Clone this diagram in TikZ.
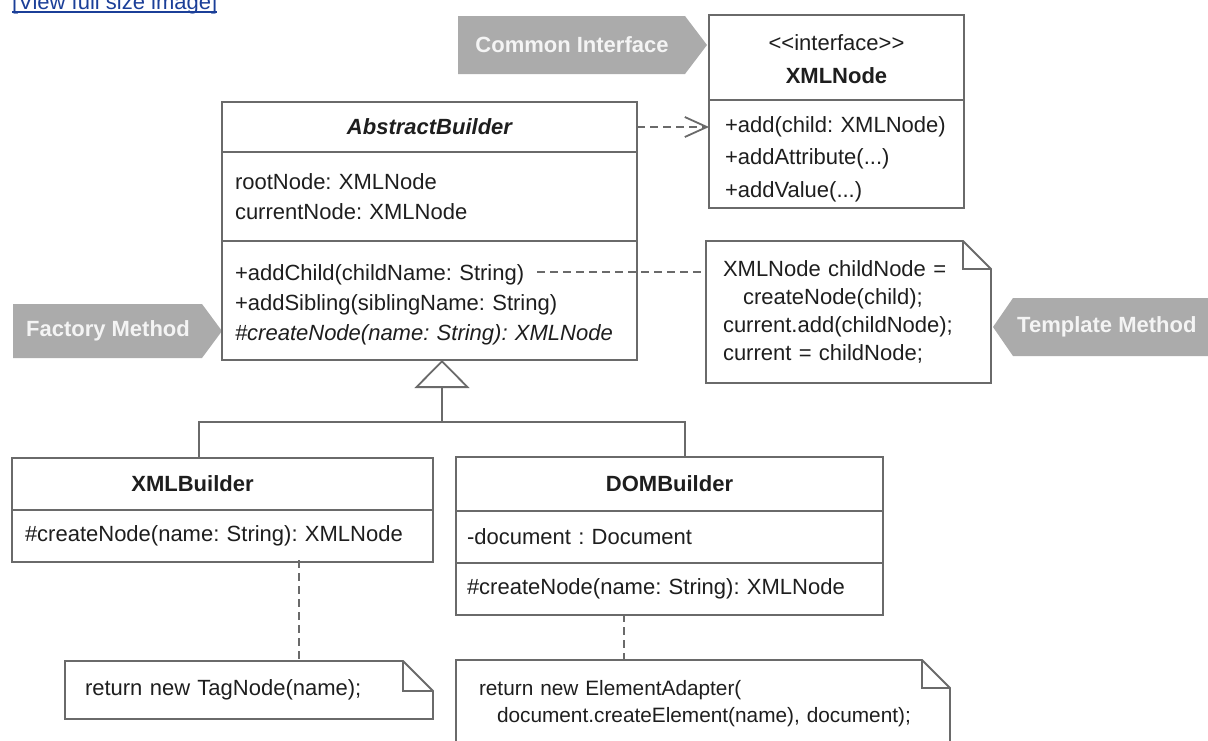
\documentclass[tikz,border=0pt]{standalone}
\usepackage{fontspec}
\setmainfont{Liberation Sans}
\definecolor{umlLinea}{HTML}{6A6A6A}
\definecolor{umlTexto}{HTML}{1E1E1E}
\definecolor{tagGris}{HTML}{ABABAB}
\definecolor{tagTexto}{HTML}{F4F4F4}
\definecolor{linkAzul}{HTML}{1B3F98}
\usetikzlibrary{
	arrows.meta,
	positioning,
	calc
}
\newcommand{\umlfont}{\fontsize{22}{30}\selectfont\frenchspacing\hyphenpenalty=10000}
\newcommand{\notefont}{\fontsize{22}{28}\selectfont\frenchspacing\hyphenpenalty=10000}
\newcommand{\bajaLinea}[1]{\rule{0pt}{#1}}
\tikzset{
	cajaParte/.style={
		draw=umlLinea,
		line width=1.8pt,
		fill=white,
		outer sep=0pt,
		inner xsep=13pt,
		inner ysep=0pt,
		align=left,
		text=umlTexto,
		font=\umlfont
	},
	cajaCab/.style={
		cajaParte,
		align=center,
		font=\umlfont\bfseries
	},
	cajaNota/.style={
		outer sep=0pt,
		inner ysep=0pt,
		align=left,
		anchor=north west,
		text=umlTexto,
		font=\notefont
	},
	lineaUml/.style={
		draw=umlLinea,
		line width=1.8pt
	},
	lineaNota/.style={
		lineaUml,
		dash pattern=on 8pt off 5pt
	},
	tagFondo/.style={
		fill=tagGris
	},
	tagEtiqueta/.style={
		inner sep=0pt,
		text=tagTexto,
		font=\umlfont\bfseries
	}
}
\begin{document}
\begin{tikzpicture}[x=1pt, y=-1pt]
	\clip (0,0) rectangle (1208,740);
	\node[anchor=base west, inner sep=0pt, text=linkAzul, font=\umlfont] (viewLink) at (12,9) {[View full size image]};
	\draw[linkAzul, line width=1.5pt] ([yshift=-3pt]viewLink.base west) -- ([yshift=-3pt]viewLink.base east);

	% tags
	\fill[tagFondo] (458,16) -- (685,16) -- (707,45) -- (685,74) -- (458,74) -- cycle;
	\node[tagEtiqueta] (tagCommon) at (572,45) {Common Interface};
	\fill[tagFondo] (13,304) -- (202,304) -- (222,331) -- (202,358) -- (13,358) -- cycle;
	\node[tagEtiqueta] (tagFactory) at (108,331) {Factory Method};
	\fill[tagFondo] (993,327) -- (1013,298) -- (1215,298) -- (1215,356) -- (1013,356) -- cycle;
	\node[tagEtiqueta, anchor=west] (tagTemplate) at (1017,327) {Template Method};

	% clases
	\node[cajaParte, align=center, inner xsep=16pt, text width=223pt, minimum height=85pt, anchor=north west] (xmlNodeHead) at (709,15) {\bajaLinea{20pt}{<}{<}interface{>}{>}\\[3pt]{\bfseries XMLNode}};
	\node[cajaParte, inner xsep=16pt, text width=223pt, minimum height=108pt, below=0pt of xmlNodeHead] (xmlNodeOps) {\bajaLinea{26pt}+add(child: XMLNode)\\[2.5pt]+addAttribute(...)\\[2.5pt]+addValue(...)};

	\node[cajaCab, text width=389pt, minimum height=50pt, anchor=north west] (abstractHead) at (222,102) {\itshape AbstractBuilder};
	\node[cajaParte, text width=389pt, minimum height=89pt, below=0pt of abstractHead] (abstractAttr) {rootNode: XMLNode\\currentNode: XMLNode};
	\node[cajaParte, text width=389pt, minimum height=119pt, below=0pt of abstractAttr] (abstractOps) {\bajaLinea{24pt}+addChild(childName: String)\\+addSibling(siblingName: String)\\\itshape\#createNode(name: String): XMLNode};

	\node[cajaCab, text width=395pt, minimum height=52pt, anchor=north west] (xmlBuilderHead) at (12,458) {XMLBuilder\hspace*{60pt}};
	\node[cajaParte, text width=395pt, minimum height=52pt, below=0pt of xmlBuilderHead] (xmlBuilderOps) {\#createNode(name: String): XMLNode};

	\node[cajaCab, inner xsep=11pt, text width=405pt, minimum height=54pt, anchor=north west] (domBuilderHead) at (456,457) {DOMBuilder};
	\node[cajaParte, inner xsep=11pt, text width=405pt, minimum height=52pt, below=0pt of domBuilderHead] (domBuilderAttr) {-document : Document};
	\node[cajaParte, inner xsep=11pt, text width=405pt, minimum height=52pt, below=0pt of domBuilderAttr] (domBuilderOps) {\#createNode(name: String): XMLNode};

	% notas
	\node[cajaNota, inner xsep=17pt, text width=251pt, minimum height=142pt] (tmplNote) at (706,241) {XMLNode childNode =\\\hspace*{20pt}createNode(child);\\current.add(childNode);\\current = childNode;};
	\node[cajaNota, inner xsep=20pt, text width=328pt, minimum height=58pt] (tagNote) at (65,661) {return new TagNode(name);};
	\node[cajaNota, inner xsep=23pt, text width=448pt, minimum height=87pt, font=\fontsize{20.8}{27}\selectfont\frenchspacing] (elemNote) at (456,660) {return new ElementAdapter(\\\hspace*{18pt}document.createElement(name), document);};
	\foreach \nota/\doblez in {tmplNote/28, tagNote/30, elemNote/28}{
		\draw[lineaUml] (\nota.north west) -- ([xshift=-\doblez pt]\nota.north east) -- ([yshift=-\doblez pt]\nota.north east) -- (\nota.south east) -- (\nota.south west) -- cycle;
		\draw[lineaUml] ([xshift=-\doblez pt]\nota.north east) |- ([yshift=-\doblez pt]\nota.north east);
	}

	% conectores
	\draw[lineaNota, -{Straight Barb[length=22pt, width=20pt]}] (abstractHead.east) -- (abstractHead.east -| xmlNodeOps.west);
	\coordinate (addChildEnd) at (537,272);
	\draw[lineaNota] (addChildEnd) -- (addChildEnd -| tmplNote.west);

	\coordinate (genJoin) at (442,422);
	\coordinate (xmlBuilderTop) at (199,458);
	\coordinate (domBuilderTop) at (685,457);
	\draw[lineaUml] (xmlBuilderTop) |- (genJoin) -| (domBuilderTop);
	\draw[lineaUml, -{Triangle[open, length=28pt, width=55pt]}] (genJoin) -- (genJoin |- abstractOps.south);

	\coordinate (xmlBuilderLink) at (299,560);
	\draw[lineaNota] (xmlBuilderLink) -- (xmlBuilderLink |- tagNote.north);
	\coordinate (domBuilderLink) at (624,614);
	\draw[lineaNota] (domBuilderLink) -- (domBuilderLink |- elemNote.north);
\end{tikzpicture}
\end{document}
